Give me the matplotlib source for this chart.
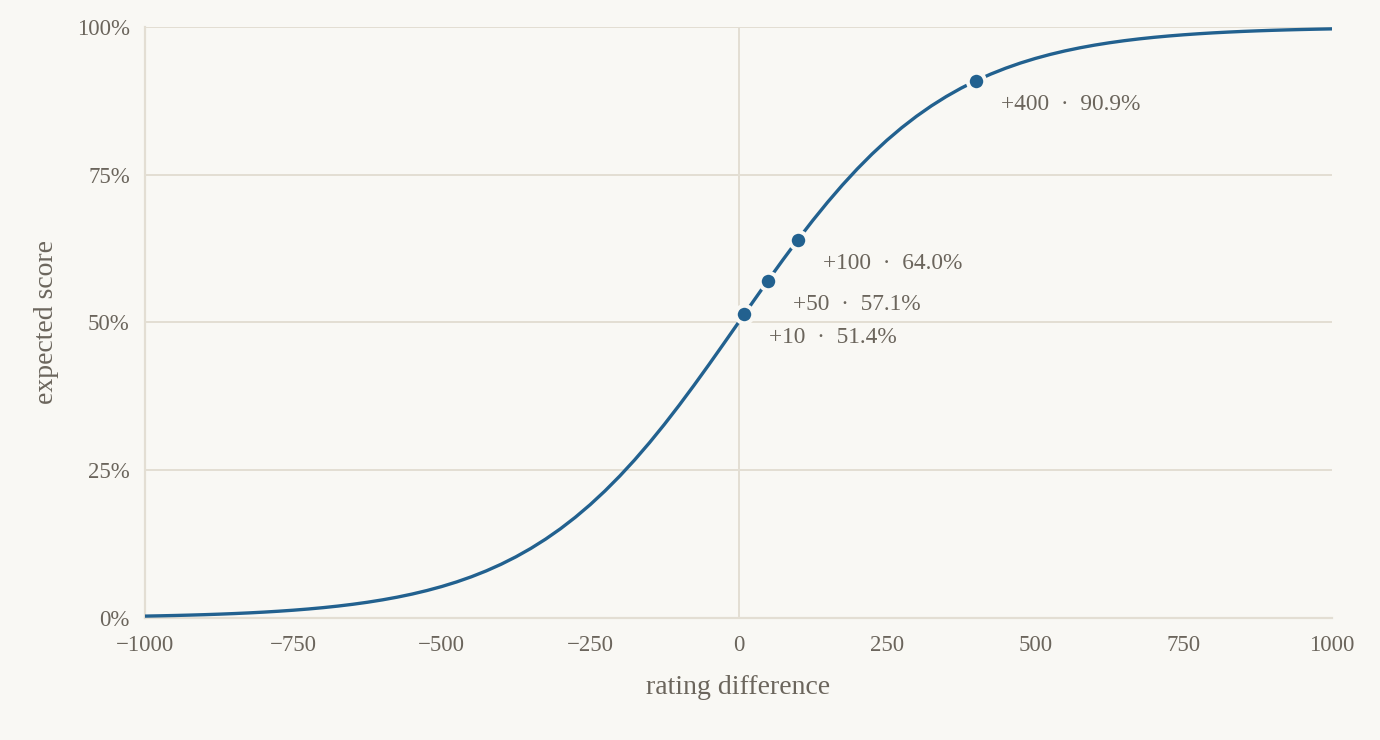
import matplotlib
matplotlib.use("Agg")
import matplotlib.pyplot as plt
from matplotlib.ticker import FuncFormatter

# rating difference samples (step 25) and expected score
rating_diff = list(range(-1000, 1001, 25))
expected = [
    0.00315, 0.00364, 0.00420, 0.00485, 0.00559, 0.00645, 0.00744, 0.00859,
    0.00990, 0.01142, 0.01316, 0.01517, 0.01747, 0.02012, 0.02316, 0.02665,
    0.03065, 0.03523, 0.04046, 0.04644, 0.05324, 0.06098, 0.06976, 0.07970,
    0.09091, 0.10352, 0.11766, 0.13344, 0.15098, 0.17037, 0.19168, 0.21498,
    0.24025, 0.26749, 0.29661, 0.32749, 0.35994, 0.39371, 0.42854, 0.46408,
    0.50000,
    0.53592, 0.57146, 0.60629, 0.64006, 0.67251, 0.70339, 0.73251, 0.75975,
    0.78502, 0.80832, 0.82963, 0.84902, 0.86656, 0.88234, 0.89648, 0.90909,
    0.92030, 0.93024, 0.93902, 0.94676, 0.95356, 0.95954, 0.96477, 0.96935,
    0.97335, 0.97684, 0.97988, 0.98253, 0.98483, 0.98684, 0.98858, 0.99010,
    0.99141, 0.99256, 0.99355, 0.99441, 0.99515, 0.99580, 0.99636, 0.99685,
]

mark_diff = [10, 50, 100, 400]
mark_score = [0.514, 0.571, 0.640, 0.909]
mark_labels = ["+10  ·  51.4%", "+50  ·  57.1%", "+100  ·  64.0%", "+400  ·  90.9%"]

x_ticks = [-1000, -750, -500, -250, 0, 250, 500, 750, 1000]
y_ticks = [0, 0.25, 0.5, 0.75, 1.0]

BG = "#f9f8f4"
GRID = "#e3ded3"
LINE = "#22618f"
TEXT = "#6b655c"

plt.rcParams['font.family'] = ['Liberation Serif', 'DejaVu Serif']

fig = plt.figure(figsize=(13.8, 7.4), dpi=100, facecolor=BG)
ax = fig.add_axes([0.1051, 0.1649, 0.8601, 0.7986])
ax.set_facecolor(BG)

ax.set_xlim(-1000, 1000)
ax.set_ylim(0, 1)
ax.set_xticks(x_ticks)
ax.set_yticks(y_ticks)
ax.xaxis.set_major_formatter(FuncFormatter(lambda v, p: f"{int(v)}".replace("-", "\u2212")))
ax.yaxis.set_major_formatter(FuncFormatter(lambda v, p: f"{int(round(v*100))}%"))
ax.tick_params(length=0, labelsize=16.5, colors=TEXT)
ax.tick_params(axis='x', pad=12)
ax.tick_params(axis='y', pad=11)

ax.grid(axis='y', color=GRID, linewidth=1.4)
ax.axvline(0, color=GRID, linewidth=1.4, zorder=1)
for s in ['top', 'right']:
    ax.spines[s].set_visible(False)
for s in ['left', 'bottom']:
    ax.spines[s].set_color(GRID)
    ax.spines[s].set_linewidth(1.6)
ax.set_axisbelow(True)

ax.plot(rating_diff, expected, color=LINE, linewidth=2.4, zorder=3, solid_capstyle='round')
ax.plot(mark_diff, mark_score, linestyle='none', marker='o', markersize=12.5,
        markerfacecolor=LINE, markeredgecolor=BG, markeredgewidth=2.8, zorder=4)
for xd, ys, lab in zip(mark_diff, mark_score, mark_labels):
    ax.annotate(lab, (xd, ys), xytext=(18, -17), textcoords='offset points',
                ha='left', va='center', fontsize=16.8, color=TEXT)

ax.set_xlabel("rating difference", fontsize=20, color=TEXT, labelpad=14)
ax.set_ylabel("expected score", fontsize=20, color=TEXT, labelpad=13)

fig.savefig("out.png", dpi=100, facecolor=BG)
